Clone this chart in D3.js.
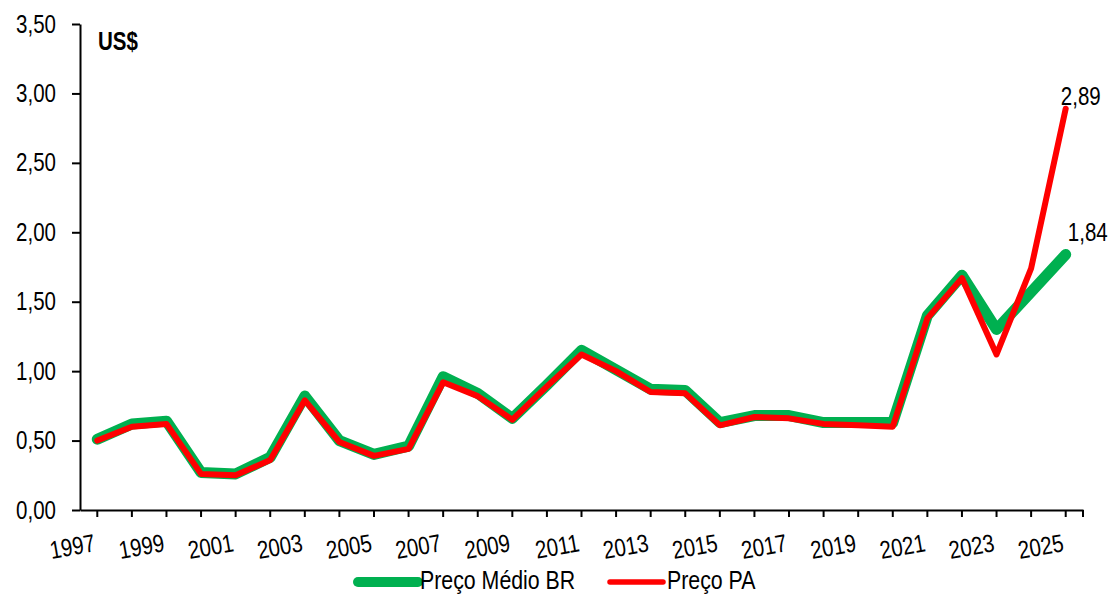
<html>
  <head>
    <meta http-equiv="Content-Type" content="text/html; charset=UTF-8" />
    <script src="https://d3js.org/d3.v7.min.js"></script>
    <style>
      body { margin: 0; background: #fff; }
      svg text { font-family: "Liberation Sans", Arial, sans-serif; }
      .axis path, .axis line { stroke: #000; stroke-width: 2; }
      .axis text { font-size: 25px; fill: #000; }
      .lbl { font-size: 25px; fill: #000; }
    </style>
  </head>
  <body>
    <div id="chart"></div>
    <script>
      // dados
      var anos = [1997, 1998, 1999, 2000, 2001, 2002, 2003, 2004, 2005, 2006,
                  2007, 2008, 2009, 2010, 2011, 2012, 2013, 2014, 2015, 2016,
                  2017, 2018, 2019, 2020, 2021, 2022, 2023, 2024, 2025];
      var precoBR = [0.51, 0.62, 0.64, 0.27, 0.26, 0.38, 0.82, 0.50, 0.40, 0.46,
                     0.96, 0.84, 0.66, 0.90, 1.15, 1.01, 0.87, 0.86, 0.63, 0.68,
                     0.68, 0.63, 0.63, 0.63, 1.40, 1.69, 1.30, 1.57, 1.84];
      var precoPA = [0.50, 0.60, 0.62, 0.26, 0.25, 0.36, 0.79, 0.49, 0.39, 0.44,
                     0.92, 0.82, 0.65, 0.89, 1.12, 1.00, 0.85, 0.84, 0.61, 0.67,
                     0.66, 0.62, 0.61, 0.60, 1.38, 1.67, 1.12, 1.74, 2.89];
      var yTicks = [0, 0.5, 1, 1.5, 2, 2.5, 3, 3.5];
      var rotulosX = [1997, 1999, 2001, 2003, 2005, 2007, 2009, 2011, 2013,
                      2015, 2017, 2019, 2021, 2023, 2025];
      var series = ["Preço Médio BR", "Preço PA"];

      var width = 1113;
      var height = 594;

      var ptBR = d3.formatLocale({decimal: ",", thousands: ".", grouping: [3], currency: ["", ""]});
      var fmt = ptBR.format(".2f");

      // sem Arial Narrow instalada: estreita o texto
      function estreitar(sel) {
        sel.each(function() {
          var w = this.getComputedTextLength();
          if (w > 0) d3.select(this)
            .attr("textLength", w * 0.82)
            .attr("lengthAdjust", "spacingAndGlyphs");
        });
      }

      var svg = d3.select("#chart").append("svg")
        .attr("width", width)
        .attr("height", height);

      /* Escalas */
      var xScale = d3.scaleBand()
        .domain(anos)
        .range([80, 1083])
        .padding(0);

      var yScale = d3.scaleLinear()
        .domain([0, 3.5])
        .range([510, 24]);

      var cx = d => xScale(d) + xScale.bandwidth() / 2;

      /* Eixos */
      var xAxis = d3.axisBottom(xScale)
        .tickSize(7)
        .tickSizeOuter(0)
        .tickFormat(d => rotulosX.indexOf(d) >= 0 ? d : "");

      var gx = svg.append("g")
        .attr("class", "x axis")
        .attr("transform", `translate(0, ${yScale(0)})`)
        .call(xAxis);

      gx.append("line")
        .attr("x1", xScale.range()[1]).attr("x2", xScale.range()[1])
        .attr("y1", 0).attr("y2", 7);

      gx.selectAll(".tick text")
        .attr("text-anchor", "end")
        .attr("x", 0).attr("y", 0).attr("dy", 0)
        .attr("transform", "translate(-1, 41) rotate(-10)")
        .call(estreitar);

      var yAxis = d3.axisLeft(yScale)
        .tickValues(yTicks)
        .tickSize(8)
        .tickSizeOuter(0)
        .tickPadding(16)
        .tickFormat(fmt);

      svg.append("g")
        .attr("class", "y axis")
        .attr("transform", `translate(${xScale.range()[0]}, 0)`)
        .call(yAxis)
        .selectAll(".tick text")
        .call(estreitar);

      svg.append("text")
        .attr("x", 98)
        .attr("y", 50)
        .style("font-size", "25px")
        .style("font-weight", "bold")
        .text("US$")
        .call(estreitar);

      /* Linhas */
      var line = d3.line()
        .x((d, i) => cx(anos[i]))
        .y(d => yScale(d));

      svg.append("path")
        .attr("d", line(precoBR))
        .attr("fill", "none")
        .attr("stroke", "#00B050")
        .attr("stroke-width", 11)
        .attr("stroke-linejoin", "round")
        .attr("stroke-linecap", "round");

      svg.append("path")
        .attr("d", line(precoPA))
        .attr("fill", "none")
        .attr("stroke", "#FF0000")
        .attr("stroke-width", 6)
        .attr("stroke-linejoin", "round")
        .attr("stroke-linecap", "round");

      /* Rotulos finais */
      var ult = anos.length - 1;
      svg.append("text")
        .attr("class", "lbl")
        .attr("text-anchor", "end")
        .attr("x", cx(anos[ult]) + 35)
        .attr("y", yScale(precoPA[ult]) - 4)
        .text(fmt(precoPA[ult]))
        .call(estreitar);

      svg.append("text")
        .attr("class", "lbl")
        .attr("text-anchor", "end")
        .attr("x", cx(anos[ult]) + 42)
        .attr("y", yScale(precoBR[ult]) - 14)
        .text(fmt(precoBR[ult]))
        .call(estreitar);

      /* Legenda */
      var leg = svg.append("g").attr("class", "legend");
      leg.append("line")
        .attr("x1", 358).attr("x2", 418).attr("y1", 582).attr("y2", 582)
        .attr("stroke", "#00B050").attr("stroke-width", 10).attr("stroke-linecap", "round");
      leg.append("text").attr("class", "lbl").style("font-size", "26px")
        .attr("x", 420).attr("y", 589).text(series[0]).call(estreitar);
      leg.append("line")
        .attr("x1", 610).attr("x2", 663).attr("y1", 582).attr("y2", 582)
        .attr("stroke", "#FF0000").attr("stroke-width", 5.5).attr("stroke-linecap", "round");
      leg.append("text").attr("class", "lbl").style("font-size", "26px")
        .attr("x", 667).attr("y", 589).text(series[1]).call(estreitar);
    </script>
  </body>
</html>
